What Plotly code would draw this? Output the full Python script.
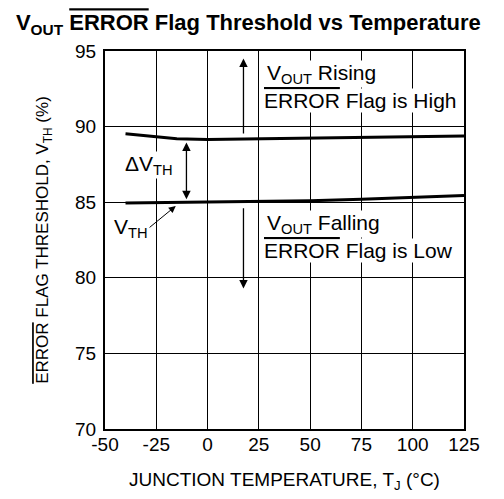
import plotly.graph_objects as go

temp = [-40, -25, -15, 0, 25, 50, 75, 100, 125]
vth_rising = [89.52, 89.35, 89.2, 89.15, 89.2, 89.25, 89.3, 89.35, 89.38]
vth_falling = [84.95, 84.97, 84.99, 85.0, 85.05, 85.1, 85.2, 85.3, 85.45]

x_ticks = [-50, -25, 0, 25, 50, 75, 100, 125]
x_labels = ["-50", "-25", "0", "25", "50", "75", "100", "125"]
y_ticks = [70, 75, 80, 85, 90, 95]

FONT = "Liberation Sans, Arial, Helvetica, sans-serif"
OVER = '<span style="text-decoration:overline">ERROR</span>'

fig = go.Figure()
for ys in (vth_rising, vth_falling):
    fig.add_trace(go.Scatter(x=temp, y=ys, mode="lines",
                             line=dict(color="black", width=3),
                             showlegend=False, hoverinfo="skip"))

# arrows
arrow = dict(xref="x", yref="y", axref="x", ayref="y", text="", showarrow=True,
             arrowcolor="black", arrowwidth=1.3, arrowhead=2, arrowsize=1.3)
fig.add_annotation(x=17.5, y=94.5, ax=17.5, ay=89.45, **arrow)
fig.add_annotation(x=17.5, y=79.3, ax=17.5, ay=84.7, **arrow)
fig.add_annotation(x=-10.3, y=85.2, ax=-10.3, ay=89.05, arrowside="end+start", **arrow)
fig.add_annotation(x=-15.5, y=84.75, ax=-29, ay=83.25,
                   **{**arrow, "arrowwidth": 1, "arrowsize": 1.4})

txt = dict(xref="x", yref="y", showarrow=False, xanchor="left", bgcolor="white",
           borderpad=0, font=dict(family=FONT, size=21, color="black"))
fig.add_annotation(x=28.5, y=93.5, text="V<sub>OUT</sub> Rising", **txt)
fig.add_annotation(x=26.8, y=91.75, text=OVER + " Flag is High", **txt)
fig.add_annotation(x=28.5, y=83.55, text="V<sub>OUT</sub> Falling", **txt)
fig.add_annotation(x=26.8, y=81.8, text=OVER + " Flag is Low", **txt)
fig.add_annotation(x=-40.5, y=87.45, text="ΔV<sub>TH</sub>", **txt)
fig.add_annotation(x=-46.3, y=83.3, text="V<sub>TH</sub>", **txt)

# page body adds an 8px offset, so the figure is 8px smaller each way
fig.update_layout(
    width=496, height=491,
    margin=dict(l=97, r=40, t=43, b=70),
    paper_bgcolor="white", plot_bgcolor="white",
    font=dict(family=FONT, size=19, color="black"),
    title=dict(text="<b>V<sub>OUT</sub> " + OVER + " Flag Threshold vs Temperature</b>",
               x=0.016, xanchor="left", y=0.986, yanchor="top",
               font=dict(family=FONT, size=22, color="black")),
)
fig.update_xaxes(range=[-50, 125], tickvals=x_ticks, ticktext=x_labels, showgrid=True,
                 gridcolor="black", gridwidth=1, showline=True, linecolor="black",
                 linewidth=2, mirror=True, zeroline=False, ticks="", ticklen=0,
                 automargin=False, ticklabelstandoff=-3, tickfont=dict(size=19),
                 title=dict(text="JUNCTION TEMPERATURE, T<sub>J</sub> (°C)", standoff=19,
                            font=dict(size=19)))
fig.update_yaxes(range=[70, 95], tickvals=y_ticks, showgrid=True, gridcolor="black",
                 gridwidth=1, showline=True, linecolor="black", linewidth=2, mirror=True,
                 zeroline=False, ticks="", ticklen=0, automargin=False,
                 ticklabelstandoff=3, tickfont=dict(size=19),
                 title=dict(text=OVER + " FLAG THRESHOLD, V<sub>TH</sub> (%)", standoff=22,
                            font=dict(size=17)))

fig.write_html("out.html")
